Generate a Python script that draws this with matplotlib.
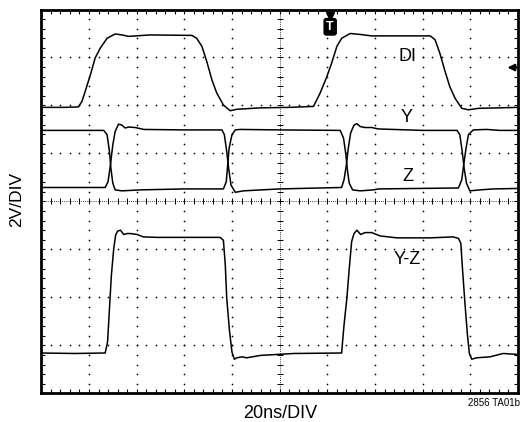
import matplotlib
matplotlib.use("Agg")
import matplotlib.pyplot as plt
import numpy as np

plt.rcParams['font.family'] = ['Liberation Sans Narrow', 'Liberation Sans', 'DejaVu Sans']

# traces relevees a l'oscillo (temps en divisions, tension en divisions)
di_t = [0, 0.5, 0.78, 0.85, 0.92, 1.03, 1.13, 1.24, 1.38, 1.55, 1.69, 1.83, 2.29, 3.16, 3.26, 3.37, 3.47,
        3.58, 3.68, 3.82, 3.96, 4.10, 4.6, 5.2, 5.71, 5.85, 5.99, 6.09, 6.20, 6.30, 6.48, 6.69, 6.93,
        8.16, 8.26, 8.36, 8.47, 8.57, 8.68, 8.82, 8.96, 9.17, 9.6, 10]
di_v = [5.96, 5.96, 5.97, 6.08, 6.29, 6.64, 6.99, 7.20, 7.40, 7.49, 7.47, 7.44, 7.47, 7.46, 7.40, 7.23, 6.92,
        6.53, 6.26, 6.01, 5.89, 5.92, 5.95, 5.96, 5.98, 6.26, 6.60, 6.88, 7.23, 7.40, 7.50, 7.48, 7.45,
        7.45, 7.37, 7.09, 6.71, 6.39, 6.15, 5.94, 5.91, 5.94, 5.95, 5.96]

y_t = [0, 1.34, 1.40, 1.45, 1.50, 1.55, 1.62, 1.69, 1.76, 1.83, 1.97, 2.15, 3.0, 3.79, 3.84, 3.89, 3.93,
       3.98, 4.07, 4.24, 5.0, 6.30, 6.35, 6.40, 6.44, 6.49, 6.56, 6.62, 6.69, 6.79, 6.93, 7.07, 8.0,
       8.72, 8.78, 8.83, 8.87, 8.92, 8.99, 9.20, 9.48, 10]
y_v = [4.29, 4.29, 4.41, 4.76, 5.18, 5.46, 5.61, 5.59, 5.53, 5.55, 5.54, 5.50, 5.49, 5.49, 5.39, 5.04, 4.69,
       4.34, 4.19, 4.22, 4.26, 4.29, 4.45, 4.76, 5.11, 5.43, 5.59, 5.62, 5.56, 5.54, 5.54, 5.51, 5.48,
       5.48, 5.39, 5.04, 4.69, 4.38, 4.22, 4.24, 4.26, 4.27]

z_t = [0, 1.31, 1.38, 1.43, 1.46, 1.50, 1.55, 1.69, 2.08, 3.0, 3.82, 3.88, 3.91, 3.94, 4.00, 4.07, 4.17,
       5.0, 6.27, 6.34, 6.39, 6.42, 6.46, 6.53, 6.69, 6.97, 7.07, 8.75, 8.82, 8.87, 8.91, 8.96, 9.06,
       9.34, 9.62, 10]
z_v = [5.48, 5.48, 5.39, 5.04, 4.69, 4.38, 4.24, 4.22, 4.24, 4.26, 4.26, 4.41, 4.76, 5.11, 5.39, 5.49, 5.50,
       5.49, 5.48, 5.32, 4.97, 4.66, 4.38, 4.24, 4.22, 4.24, 4.26, 4.28, 4.45, 4.83, 5.11, 5.39, 5.49,
       5.50, 5.48, 5.48]

yz_t = [0, 0.7, 1.34, 1.39, 1.43, 1.47, 1.52, 1.56, 1.60, 1.66, 1.73, 1.80, 1.87, 2.01, 2.14, 2.43, 3.12,
        3.75, 3.82, 3.86, 3.89, 3.95, 4.00, 4.05, 4.10, 4.21, 4.31, 4.6, 5.3, 6.30, 6.35, 6.41, 6.46,
        6.51, 6.56, 6.62, 6.70, 6.79, 6.93, 7.11, 7.46, 8.16, 8.64, 8.75, 8.80, 8.84, 8.89, 8.94, 8.98,
        9.03, 9.13, 9.41, 9.69, 10]
yz_v = [0.84, 0.83, 0.84, 1.07, 1.77, 2.46, 3.02, 3.30, 3.38, 3.40, 3.31, 3.33, 3.33, 3.31, 3.26, 3.25, 3.25,
        3.25, 3.19, 2.67, 1.98, 1.28, 0.86, 0.71, 0.74, 0.76, 0.74, 0.79, 0.83, 0.84, 1.42, 1.98, 2.60,
        3.16, 3.33, 3.40, 3.31, 3.35, 3.35, 3.28, 3.24, 3.24, 3.26, 3.23, 3.13, 2.53, 1.84, 1.21, 0.83,
        0.71, 0.74, 0.76, 0.83, 0.81]

noms = ['DI', 'Y', 'Z', 'Y-Z']
pos_noms = [(7.69, 7.01), (7.67, 5.74), (7.69, 4.51), (7.67, 2.78)]

fig = plt.figure(figsize=(5.21, 4.22), dpi=100)
ax = fig.add_axes([41.3/521, 1-393.3/422, (518-41.3)/521, (393.3-9.5)/422])
ax.set_xlim(0, 10)
ax.set_ylim(0, 8)

# grille en pointilles (un point tous les 1/5 de division)
sub = np.arange(0, 10.01, 0.2)
subv = np.arange(0, 8.01, 0.2)
for gx in range(1, 10):
    if gx != 5:
        ax.scatter(np.full(len(subv), gx), subv, s=1.5, color='k', lw=0, zorder=1)
for gy in range(1, 8):
    if gy != 4:
        ax.scatter(sub, np.full(len(sub), gy), s=1.5, color='k', lw=0, zorder=1)

# axes centraux gradues
ax.plot([5, 5], [0, 8], color='k', lw=0.6, ls=(0, (1, 1.5)), zorder=1)
ax.plot([0, 10], [4, 4], color='k', lw=0.6, ls=(0, (1, 1.5)), zorder=1)
ax.plot(np.full(len(subv), 5), subv, ls='none', marker='_', ms=5, mew=0.7, color='k', zorder=1)
ax.plot(sub, np.full(len(sub), 4), ls='none', marker='|', ms=5, mew=0.7, color='k', zorder=1)

# les courbes
for t, v in [(di_t, di_v), (y_t, y_v), (z_t, z_v), (yz_t, yz_v)]:
    ax.plot(t, v, color='k', lw=1.1, zorder=3)

for nom, (px, py) in zip(noms, pos_noms):
    ax.text(px, py, nom, fontsize=13, ha='center', va='center', zorder=4)

# declenchement et niveau de trigger
ax.plot([6.06], [7.87], marker='v', ms=6, color='k', ls='none', clip_on=False, zorder=5)
ax.text(6.06, 7.64, 'T', fontsize=9, fontweight='bold', color='white', ha='center', va='center',
        bbox=dict(boxstyle='round,pad=0.18', fc='k', ec='k'), zorder=5)
ax.annotate('', xy=(9.72, 6.79), xytext=(10.03, 6.79),
            arrowprops=dict(arrowstyle='-|>', color='k', lw=1.5, mutation_scale=10), zorder=5)

# cadre et graduations
for s in ax.spines.values():
    s.set_linewidth(2.0)
ax.set_xticks(np.arange(0, 11, 1))
ax.set_yticks(np.arange(0, 9, 1))
ax.set_xticks(sub, minor=True)
ax.set_yticks(subv, minor=True)
ax.tick_params(which='both', direction='in', length=3, width=0.8, top=True, right=True,
               labelbottom=False, labelleft=False)

fig.text(17/521, 1-199/422, '2V/DIV', rotation=90, fontsize=12.5, ha='center', va='center')
fig.text(280/521, 1-414/422, '20ns/DIV', fontsize=13, ha='center', va='center')
fig.text(520/521, 1-403/422, '2856 TA01b', fontsize=7, ha='right', va='center')

fig.savefig('out.png', dpi=100)
